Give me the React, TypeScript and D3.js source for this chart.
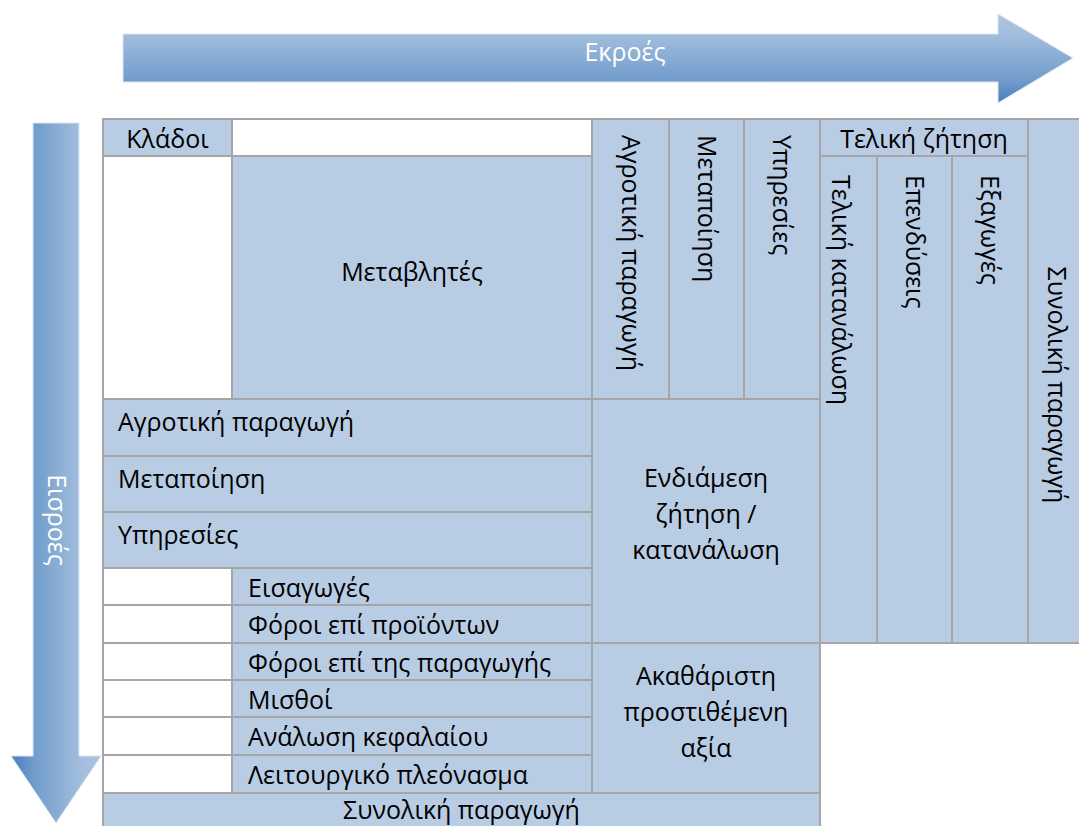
import React from 'react';
import * as d3 from 'd3';

// labels of the input-output table
const sectorRows = ['Αγροτική παραγωγή', 'Μεταποίηση', 'Υπηρεσίες'];
const importRows = ['Εισαγωγές', 'Φόροι επί προϊόντων'];
const valueAddedRows = ['Φόροι επί της παραγωγής', 'Μισθοί', 'Ανάλωση κεφαλαίου', 'Λειτουργικό πλεόνασμα'];
const sectorCols = ['Αγροτική παραγωγή', 'Μεταποίηση', 'Υπηρεσίες'];
const finalDemandCols = ['Τελική κατανάλωση', 'Επενδύσεις', 'Εξαγωγές'];
const intermediateLines = ['Ενδιάμεση', 'ζήτηση /', 'κατανάλωση'];
const valueAddedLines = ['Ακαθάριστη', 'προστιθέμενη', 'αξία'];
const headerLabels = { sectors: 'Κλάδοι', variables: 'Μεταβλητές', finalDemand: 'Τελική ζήτηση', total: 'Συνολική παραγωγή' };
const arrowLabels = { outputs: 'Εκροές', inputs: 'Εισροές' };

// grid layout
const width = 1079;
const height = 826;
const colEdges = [103, 232, 592, 669, 744, 820, 877, 952, 1028, 1100];
const rowEdges = [119, 156, 399, 456, 512, 568, 605, 643, 680, 717, 755, 793, 850];

const x = d3.scaleLinear().domain(d3.range(colEdges.length)).range(colEdges);
const y = d3.scaleLinear().domain(d3.range(rowEdges.length)).range(rowEdges);

const fill = '#b8cce4';
const stroke = '#a6a6a6';
const font = '"Open Sans", "Noto Sans", sans-serif';
const fontSize = 25;

type Cell = { c0: number; c1: number; r0: number; r1: number; blue: boolean };

const cell = (c0: number, c1: number, r0: number, r1: number, blue = true): Cell => ({ c0, c1, r0, r1, blue });

const cells: Cell[] = [
  cell(0, 1, 0, 1),
  cell(1, 2, 0, 1, false),
  cell(0, 1, 1, 2, false),
  cell(1, 2, 1, 2),
  ...sectorCols.map((_, i) => cell(2 + i, 3 + i, 0, 2)),
  cell(5, 8, 0, 1),
  ...finalDemandCols.map((_, i) => cell(5 + i, 6 + i, 1, 7)),
  cell(8, 9, 0, 7),
  ...sectorRows.map((_, i) => cell(0, 2, 2 + i, 3 + i)),
  ...importRows.flatMap((_, i) => [cell(0, 1, 5 + i, 6 + i, false), cell(1, 2, 5 + i, 6 + i)]),
  ...valueAddedRows.flatMap((_, i) => [cell(0, 1, 7 + i, 8 + i, false), cell(1, 2, 7 + i, 8 + i)]),
  cell(2, 5, 2, 7),
  cell(2, 5, 7, 11),
  cell(0, 5, 11, 12),
];

const line = d3.line();
const topArrow = line([[123, 34], [998, 34], [998, 14], [1073, 58], [998, 103], [998, 82], [123, 82]]) + 'Z';
const leftArrow = line([[33, 123], [79, 123], [79, 756], [101, 756], [56, 823], [11, 756], [33, 756]]) + 'Z';

const mid = (a: number, b: number) => (a + b) / 2;

const VerticalText = ({ cx, y0, label, anchor = 'start' }: { cx: number; y0: number; label: string; anchor?: string }) => (
  <text transform={`translate(${cx},${y0}) rotate(90)`} dy="0.35em" textAnchor={anchor}>
    {label}
  </text>
);

export default function App() {
  return (
    <svg
      width={width}
      height={height}
      style={{ position: 'absolute', left: 0, top: 0, fontFamily: font, fontSize }}
    >
      <defs>
        <linearGradient id="gradTop" x1="0" y1="0" x2="0" y2="1">
          <stop offset="0" stopColor="#abc4e1" />
          <stop offset="0.22" stopColor="#a3bede" />
          <stop offset="0.76" stopColor="#6f9bcb" />
          <stop offset="1" stopColor="#4a7cbd" />
        </linearGradient>
        <linearGradient id="gradLeft" x1="0" y1="0" x2="1" y2="0">
          <stop offset="0" stopColor="#4a7cbd" />
          <stop offset="0.24" stopColor="#6f9bcb" />
          <stop offset="0.78" stopColor="#a3bede" />
          <stop offset="1" stopColor="#abc4e1" />
        </linearGradient>
      </defs>

      <path d={topArrow} fill="url(#gradTop)" stroke="#dce6f2" strokeWidth={1} />
      <text x={625} y={61} fill="#fff" textAnchor="middle">{arrowLabels.outputs}</text>

      <path d={leftArrow} fill="url(#gradLeft)" stroke="#dce6f2" strokeWidth={1} />
      <g fill="#fff">
        <VerticalText cx={57} y0={520} label={arrowLabels.inputs} anchor="middle" />
      </g>

      <g stroke={stroke} strokeWidth={2}>
        {cells.map((d, i) => (
          <rect
            key={i}
            x={x(d.c0)}
            y={y(d.r0)}
            width={x(d.c1) - x(d.c0)}
            height={y(d.r1) - y(d.r0)}
            fill={d.blue ? fill : '#fff'}
          />
        ))}
      </g>

      <g fill="#000">
        <text x={mid(x(0), x(1))} y={y(0) + 29} textAnchor="middle">{headerLabels.sectors}</text>
        <text x={mid(x(1), x(2))} y={mid(y(1), y(2)) + 3} textAnchor="middle">{headerLabels.variables}</text>
        <text x={mid(x(5), x(8))} y={y(0) + 29} textAnchor="middle">{headerLabels.finalDemand}</text>

        {sectorCols.map((label, i) => (
          <VerticalText key={label} cx={mid(x(2 + i), x(3 + i))} y0={y(0) + 16} label={label} />
        ))}
        {finalDemandCols.map((label, i) => (
          <VerticalText key={label} cx={mid(x(5 + i), x(6 + i)) - (i === 0 ? 8 : 0)} y0={y(1) + 19} label={label} />
        ))}
        <VerticalText cx={mid(x(8), x(8) + 57)} y0={mid(y(0), y(7)) + 4} label={headerLabels.total} anchor="middle" />

        {sectorRows.map((label, i) => (
          <text key={label} x={x(0) + 15} y={y(2 + i) + 32}>{label}</text>
        ))}
        {importRows.map((label, i) => (
          <text key={label} x={x(1) + 16} y={y(5 + i) + 29}>{label}</text>
        ))}
        {valueAddedRows.map((label, i) => (
          <text key={label} x={x(1) + 16} y={y(7 + i) + 29}>{label}</text>
        ))}

        <text x={mid(x(2), x(5))} y={487} textAnchor="middle">
          {intermediateLines.map((t, i) => (
            <tspan key={t} x={mid(x(2), x(5))} dy={i === 0 ? 0 : 36}>{t}</tspan>
          ))}
        </text>
        <text x={mid(x(2), x(5))} y={685} textAnchor="middle">
          {valueAddedLines.map((t, i) => (
            <tspan key={t} x={mid(x(2), x(5))} dy={i === 0 ? 0 : 36}>{t}</tspan>
          ))}
        </text>

        <text x={mid(x(0), x(5))} y={y(11) + 26} textAnchor="middle">{headerLabels.total}</text>
      </g>
    </svg>
  );
}
